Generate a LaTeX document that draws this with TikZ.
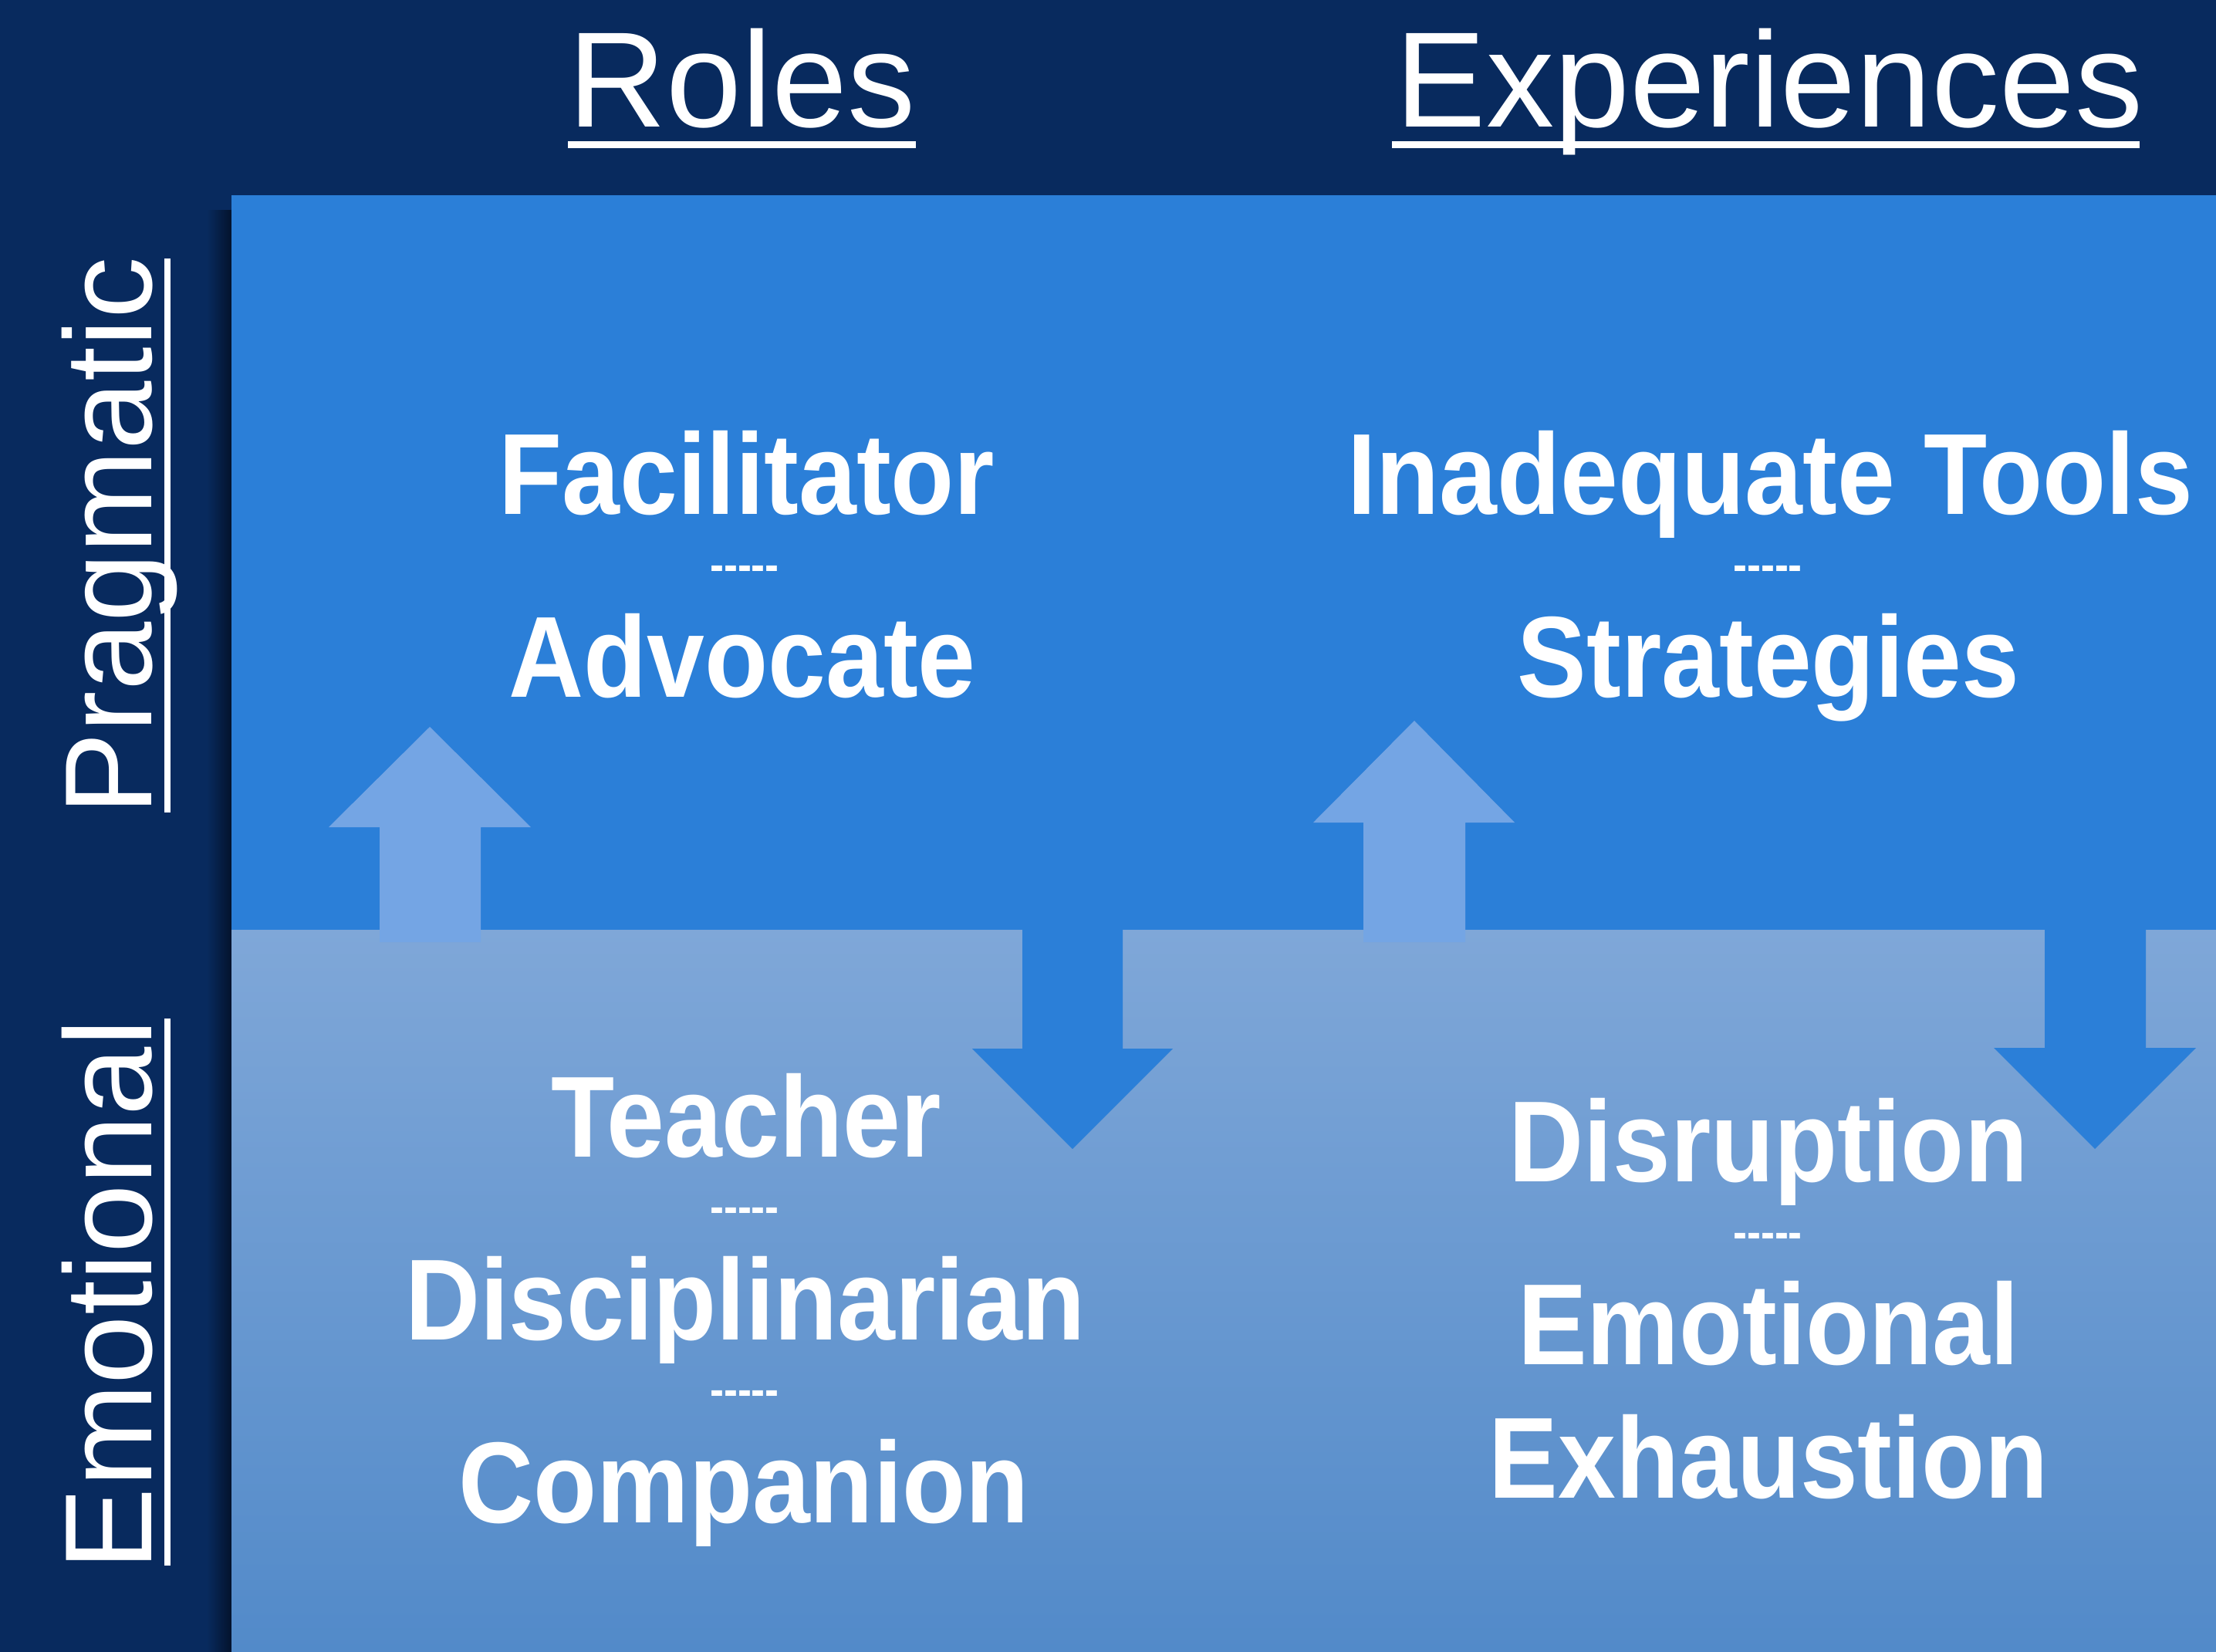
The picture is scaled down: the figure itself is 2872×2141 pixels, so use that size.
\documentclass[tikz,border=0pt]{standalone}
\usepackage{fontspec}
\setmainfont{Liberation Sans}
\newfontfamily\bodyfont[FakeStretch=0.9]{Liberation Sans Bold}
\definecolor{navy}{HTML}{082A5E}
\definecolor{shadowdark}{HTML}{03122B}
\definecolor{topblue}{HTML}{2B7FD8}
\definecolor{uparrow}{HTML}{74A5E4}
\definecolor{botlight}{HTML}{7FA7D8}
\definecolor{botdark}{HTML}{528AC9}
\begin{document}
\begin{tikzpicture}[x=0.25pt,y=-0.25pt,
  header/.style={text=white,inner sep=0pt,anchor=base,font=\fontsize{44}{52}\selectfont},
  side/.style={text=white,inner sep=0pt,anchor=base,rotate=90,font=\fontsize{40.15}{48}\selectfont},
  body/.style={text=white,inner sep=0pt,anchor=base,font=\bodyfont\fontsize{37.35}{44}\selectfont},
  sep/.style={text=white,inner sep=0pt,anchor=base,font=\bodyfont\fontsize{15}{18}\selectfont},
  rule/.style={fill=white,draw=none}]
\useasboundingbox (0,0) rectangle (2872,2141);
% background
\fill[navy] (0,0) rectangle (2872,2141);
% shadow
\shade[left color=navy,right color=shadowdark] (268,272) rectangle (301,2141);
% panels
\fill[topblue] (300,253) rectangle (2872,1205);
\shade[top color=botlight,bottom color=botdark] (300,1205) rectangle (2872,2141);
% arrows
\fill[uparrow] (492,1221) -- (492,1072) -- (426,1072) -- (557,942) -- (688,1072) -- (623,1072) -- (623,1221) -- cycle;
\fill[uparrow] (1767,1221) -- (1767,1066) -- (1702,1066) -- (1833,934) -- (1963,1066) -- (1899,1066) -- (1899,1221) -- cycle;
\fill[topblue] (1325,1200) -- (1325,1359) -- (1260,1359) -- (1390,1489) -- (1520,1359) -- (1455,1359) -- (1455,1200) -- cycle;
\fill[topblue] (2650,1200) -- (2650,1358) -- (2584,1358) -- (2715,1489) -- (2846,1358) -- (2781,1358) -- (2781,1200) -- cycle;
% headers
\node[header] (roles) at (961.5,165) {Roles};
\node[header] (exper) at (2293,165) {Experiences};
\fill[rule] (736,183) rectangle (1187,192);
\fill[rule] (1804,183) rectangle (2773,192);
% side labels
\node[side] (prag) at (196,695) {Pragmatic};
\node[side] (emo) at (196,1678) {Emotional};
\fill[rule] (213,335) rectangle (221,1053);
\fill[rule] (213,1320) rectangle (221,2029);
% top-left
\node[body] (facil) at (968,666) {Facilitator};
\node[sep] (d1) at (965,752) {-----};
\node[body] (advoc) at (962,903) {Advocate};
% top-right
\node[body] (inad) at (2294,666) {Inadequate Tools};
\node[sep] (d2) at (2291,752) {-----};
\node[body] (strat) at (2292,903) {Strategies};
% bottom-left
\node[body] (teach) at (967,1499) {Teacher};
\node[sep] (d3) at (965,1584) {-----};
\node[body] (disc) at (966,1736) {Disciplinarian};
\node[sep] (d4) at (965,1821) {-----};
\node[body] (comp) at (964,1973) {Companion};
% bottom-right
\node[body] (disr) at (2292,1531) {Disruption};
\node[sep] (d5) at (2291,1617) {-----};
\node[body] (emot) at (2292,1768) {Emotional};
\node[body] (exh) at (2292,1941) {Exhaustion};
\end{tikzpicture}
\end{document}
